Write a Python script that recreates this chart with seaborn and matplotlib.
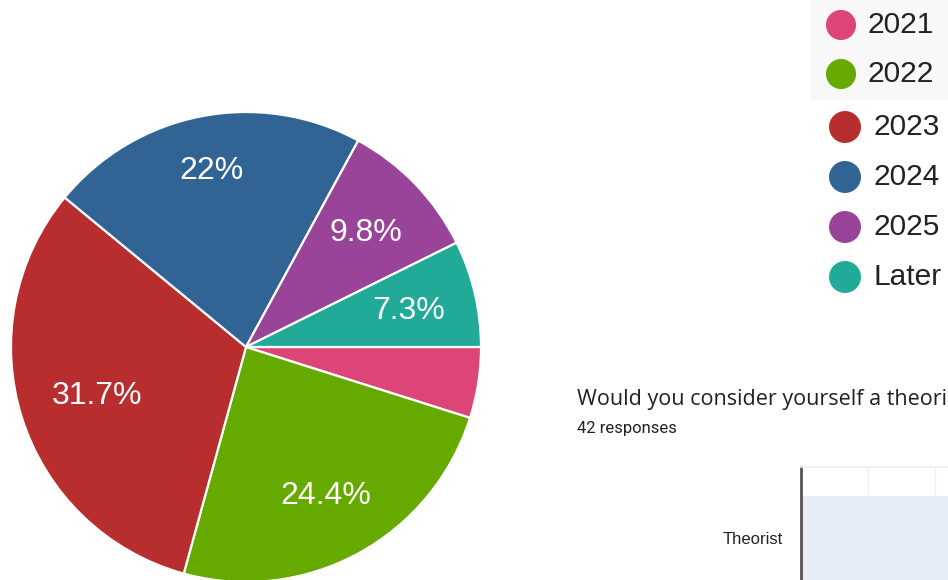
import matplotlib
matplotlib.use("Agg")
import matplotlib.pyplot as plt
import seaborn as sns
import numpy as np
from matplotlib.patches import Rectangle

# ---- data ----
years = ["2021", "2022", "2023", "2024", "2025", "Later"]
counts = [2, 10, 13, 9, 4, 3]
colors = ["#dd4477", "#66aa00", "#b82e2e", "#316395", "#994499", "#22aa99"]

next_question = "Would you consider yourself a theorist or an experimentalist?"
next_responses = "42 responses"
bar_categories = ["Theorist"]
bar_values = [24]

sns.set_theme(style="white")
plt.rcParams["font.family"] = ["Liberation Sans", "DejaVu Sans"]

W, H = 948, 580
fig = plt.figure(figsize=(W / 100, H / 100), dpi=100)
ax = fig.add_axes([0, 0, 1, 1])

def Y(py):
    return H - py

# ---- pie ----
cx, cy, r = 246, Y(347), 235

def fmt(p):
    if p < 5:
        return ""
    s = f"{p:.1f}"
    if s.endswith(".0"):
        s = s[:-2]
    return s + "%"

wedges, _, autotexts = ax.pie(
    counts, colors=colors, startangle=0, counterclock=False,
    center=(cx, cy), radius=r, autopct=fmt, pctdistance=0.71,
    wedgeprops=dict(edgecolor="white", linewidth=1.6),
    textprops=dict(color="white", fontsize=23),
)
label_rad = [0.71, 0.71, 0.665, 0.77, 0.71, 0.71]
for w, t, lr in zip(wedges, autotexts, label_rad):
    th = np.deg2rad((w.theta1 + w.theta2) / 2)
    t.set_position((cx + lr * r * np.cos(th), cy + lr * r * np.sin(th) - 2))
    t.set_ha("center"); t.set_va("center")

ax.set_xlim(0, W)
ax.set_ylim(0, H)
ax.set_aspect("equal")
ax.axis("off")

# ---- legend ----
ax.add_patch(Rectangle((810, Y(100)), 140, 100, facecolor="#f8f8f8", edgecolor="none", zorder=0))
leg_y = [25, 74, 127, 177, 227, 277]
leg_x = [841, 841, 845, 845, 845, 845]
leg_tx = [868, 868, 874, 874, 874, 874]
leg_s = [470, 470, 530, 530, 530, 530]
for lab, c, yy, xx, tx, ss in zip(years, colors, leg_y, leg_x, leg_tx, leg_s):
    ax.scatter([xx], [Y(yy)], s=ss, color=c, edgecolor="none", zorder=3)
    ax.text(tx, Y(yy), lab, fontsize=21.5, color="#222222", va="center", ha="left")

# ---- next question header ----
ax.text(577, Y(405), next_question, fontsize=15.5, color="#202124",
        family=["Open Sans", "DejaVu Sans"], va="baseline", ha="left")
ax.text(577, Y(433), next_responses, fontsize=12, color="#202124",
        family=["Roboto", "DejaVu Sans"], va="baseline", ha="left")

# ---- partial bar chart ----
unit = 107.5
top_lim, bot_lim = -0.66, 0.6
ax_h = (bot_lim - top_lim) * unit
ax_top = 467
bx = fig.add_axes([801 / W, (H - ax_top - ax_h) / H, 402 / W, ax_h / H])
sns.barplot(x=bar_values, y=bar_categories, orient="h", color="#e6edf7",
            saturation=1, width=0.8, ax=bx, zorder=2)
bx.set_xlim(0, 30)
bx.set_ylim(bot_lim, top_lim)
bx.set_xticks(np.arange(0, 31, 5))
bx.set_xticklabels([])
bx.grid(axis="x", color="#eeeeee", linewidth=1, zorder=0)
bx.set_axisbelow(True)
for s in ["right", "bottom"]:
    bx.spines[s].set_visible(False)
bx.spines["top"].set_color("#eeeeee")
bx.spines["left"].set_color("#555555")
bx.spines["left"].set_linewidth(2)
bx.tick_params(axis="y", length=0, pad=13, labelsize=12, labelcolor="#222222")
bx.tick_params(axis="x", length=0)
bx.set_xlabel(""); bx.set_ylabel("")

fig.savefig("out.png", dpi=100)
